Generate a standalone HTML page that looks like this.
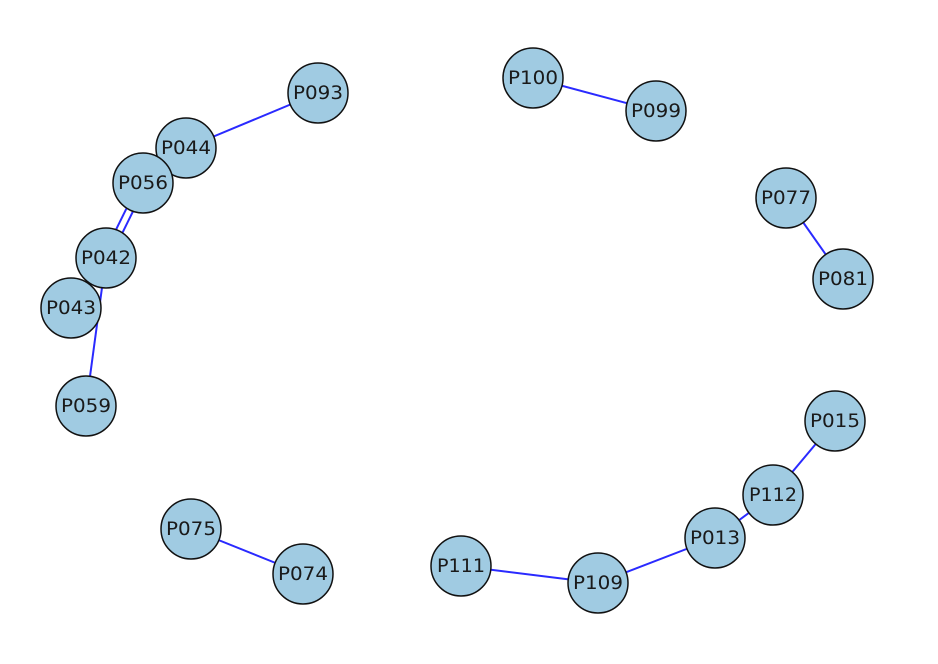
<!DOCTYPE html>
<html><head><meta charset="utf-8"><style>
html,body{margin:0;padding:0;background:#fff;}
svg{display:block}
text{font-family:"DejaVu Sans","Liberation Sans",sans-serif;font-size:19px;fill:#1a1a1a}
</style></head><body>
<svg width="938" height="664" viewBox="0 0 938 664" xmlns="http://www.w3.org/2000/svg">
<g stroke="#2a2aff" stroke-width="2">
<line x1="533" y1="78" x2="656" y2="111"/>
<line x1="786" y1="198" x2="843" y2="279"/>
<line x1="835" y1="421" x2="773" y2="495"/>
<line x1="773" y1="495" x2="715" y2="538"/>
<line x1="715" y1="538" x2="598" y2="583"/>
<line x1="598" y1="583" x2="461" y2="566"/>
<line x1="191" y1="529" x2="303" y2="574"/>
<line x1="186" y1="148" x2="318" y2="93"/>
<line x1="140" y1="181" x2="103" y2="256"/>
<line x1="146" y1="185" x2="109" y2="260"/>
<line x1="106" y1="258" x2="86" y2="406"/>
</g>
<g fill="#a0cbe2" stroke="#111" stroke-width="1.5">
<circle cx="318" cy="93" r="30"/>
<circle cx="186" cy="148" r="30"/>
<circle cx="143" cy="183" r="30"/>
<circle cx="106" cy="258" r="30"/>
<circle cx="71" cy="308" r="30"/>
<circle cx="86" cy="406" r="30"/>
<circle cx="533" cy="78" r="30"/>
<circle cx="656" cy="111" r="30"/>
<circle cx="786" cy="198" r="30"/>
<circle cx="843" cy="279" r="30"/>
<circle cx="835" cy="421" r="30"/>
<circle cx="773" cy="495" r="30"/>
<circle cx="715" cy="538" r="30"/>
<circle cx="598" cy="583" r="30"/>
<circle cx="461" cy="566" r="30"/>
<circle cx="191" cy="529" r="30"/>
<circle cx="303" cy="574" r="30"/>
</g>
<g text-anchor="middle" dominant-baseline="central">
<text x="318" y="93" textLength="50" lengthAdjust="spacingAndGlyphs">P093</text>
<text x="186" y="148" textLength="50" lengthAdjust="spacingAndGlyphs">P044</text>
<text x="143" y="183" textLength="50" lengthAdjust="spacingAndGlyphs">P056</text>
<text x="106" y="258" textLength="50" lengthAdjust="spacingAndGlyphs">P042</text>
<text x="71" y="308" textLength="50" lengthAdjust="spacingAndGlyphs">P043</text>
<text x="86" y="406" textLength="50" lengthAdjust="spacingAndGlyphs">P059</text>
<text x="533" y="78" textLength="50" lengthAdjust="spacingAndGlyphs">P100</text>
<text x="656" y="111" textLength="50" lengthAdjust="spacingAndGlyphs">P099</text>
<text x="786" y="198" textLength="50" lengthAdjust="spacingAndGlyphs">P077</text>
<text x="843" y="279" textLength="50" lengthAdjust="spacingAndGlyphs">P081</text>
<text x="835" y="421" textLength="50" lengthAdjust="spacingAndGlyphs">P015</text>
<text x="773" y="495" textLength="48" lengthAdjust="spacingAndGlyphs">P112</text>
<text x="715" y="538" textLength="50" lengthAdjust="spacingAndGlyphs">P013</text>
<text x="598" y="583" textLength="50" lengthAdjust="spacingAndGlyphs">P109</text>
<text x="461" y="566" textLength="48" lengthAdjust="spacingAndGlyphs">P111</text>
<text x="191" y="529" textLength="50" lengthAdjust="spacingAndGlyphs">P075</text>
<text x="303" y="574" textLength="50" lengthAdjust="spacingAndGlyphs">P074</text>
</g>
</svg>
</body></html>
